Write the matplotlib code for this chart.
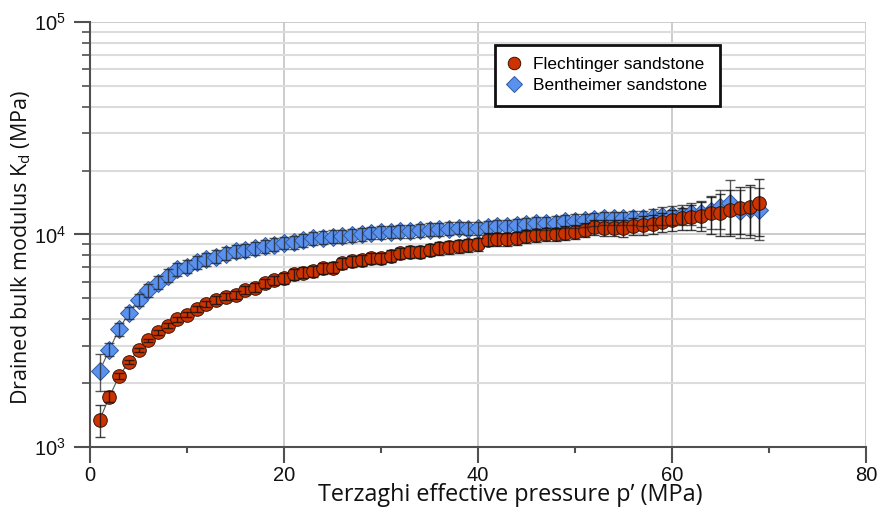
import numpy as np
import matplotlib
matplotlib.use('Agg')
import matplotlib.pyplot as plt
from matplotlib.ticker import LogLocator, FixedLocator, LogFormatterSciNotation

# =============================================================================
# data
# =============================================================================
pressure = list(range(1, 70))

k_flechtinger = [1340, 1725, 2158, 2506, 2851, 3178, 3467, 3724, 4000, 4195,
                 4458, 4695, 4918, 5097, 5190, 5478, 5630, 5890, 6080, 6220,
                 6500, 6610, 6730, 6930, 6980, 7320, 7500, 7580, 7720, 7720,
                 7930, 8160, 8280, 8300, 8450, 8610, 8710, 8830, 8930, 9020,
                 9450, 9480, 9480, 9590, 9840, 9950, 10020, 10020, 10190, 10300,
                 10500, 10810, 10760, 10760, 10690, 10960, 11090, 11200, 11480, 11690,
                 11910, 12130, 12250, 12580, 12670, 13030, 13360, 13510, 14030]

err_flechtinger = [230, 100, 60, 50, 60, 60, 90, 100, 110, 120,
                   140, 150, 190, 200, 210, 220, 280, 290, 300, 370,
                   390, 400, 400, 420, 420, 440, 450, 450, 460, 460,
                   480, 520, 540, 550, 560, 580, 600, 610, 620, 640,
                   660, 680, 680, 680, 700, 700, 720, 720, 740, 760,
                   800, 860, 900, 900, 950, 1000, 1100, 1150, 1200, 1300,
                   1400, 1600, 1900, 2500, 2800, 3200, 3300, 3600, 4200]

k_bentheimer = [2286, 2871, 3592, 4272, 4935, 5478, 5933, 6401, 6858, 7056,
                7398, 7673, 7865, 8128, 8363, 8453, 8650, 8840, 8970, 9140,
                9240, 9410, 9590, 9660, 9770, 9840, 9950, 10050, 10190, 10270,
                10300, 10380, 10380, 10460, 10540, 10620, 10650, 10760, 10650, 10690,
                10850, 10960, 10960, 11090, 11200, 11300, 11300, 11370, 11580, 11600,
                11690, 11790, 11910, 11910, 11910, 12000, 11910, 12130, 12250, 12300,
                12400, 12600, 12600, 12900, 13400, 14000, 12900, 13200, 13000]

err_bentheimer = [450, 200, 250, 280, 330, 380, 420, 450, 480, 500,
                  520, 540, 560, 570, 590, 600, 610, 620, 630, 640,
                  650, 660, 670, 680, 690, 690, 700, 700, 710, 720,
                  720, 730, 730, 730, 740, 740, 750, 750, 750, 760,
                  760, 770, 770, 780, 780, 790, 790, 800, 810, 820,
                  830, 840, 850, 860, 870, 960, 1000, 1100, 1150, 1250,
                  1300, 1500, 1700, 2300, 2800, 4000, 3300, 3600, 3600]

x_ticks = [0, 20, 40, 60, 80]
labels = ['Flechtinger sandstone', 'Bentheimer sandstone']

# =============================================================================
# plot settings
# =============================================================================
plt.rcParams['font.family'] = ['Liberation Sans', 'DejaVu Sans']
plt.rcParams['mathtext.default'] = 'regular'

red_face, red_edge = '#cc3300', '#3a1405'
blue_face, blue_edge = '#5b91ee', '#2f5a9e'
spine_col = '#505050'
label_font = ['Open Sans', 'DejaVu Sans']

fig = plt.figure(figsize=(8.79, 5.16), dpi=100)
ax = fig.add_axes([0.1024, 0.1337, 0.8828, 0.8237])

# connecting lines
ax.plot(pressure, k_bentheimer, color='#555555', lw=0.8, zorder=2)
ax.plot(pressure, k_flechtinger, color='#555555', lw=0.8, zorder=2)

# markers
ax.plot(pressure, k_bentheimer, ls='none', marker='D', ms=9.3, mfc=blue_face,
        mec=blue_edge, mew=0.7, zorder=3)
ax.plot(pressure, k_flechtinger, ls='none', marker='o', ms=9.8, mfc=red_face,
        mec=red_edge, mew=0.7, zorder=3.5)

# error bars on top
ax.errorbar(pressure, k_bentheimer, yerr=err_bentheimer, fmt='none', ecolor='#222222',
            elinewidth=1.0, capsize=3.4, capthick=1.0, alpha=0.75, zorder=4)
ax.errorbar(pressure, k_flechtinger, yerr=err_flechtinger, fmt='none', ecolor='#111111',
            elinewidth=1.0, capsize=3.4, capthick=1.0, alpha=0.8, zorder=4.5)

ax.set_yscale('log')
ax.set_xlim(0, 80)
ax.set_ylim(1e3, 1e5)

ax.xaxis.set_major_locator(FixedLocator(x_ticks))
ax.xaxis.set_minor_locator(FixedLocator([10, 30, 50, 70]))
ax.yaxis.set_major_locator(LogLocator(base=10, numticks=5))
ax.yaxis.set_minor_locator(LogLocator(base=10, subs=np.arange(2, 10), numticks=20))
ax.yaxis.set_major_formatter(LogFormatterSciNotation())
ax.yaxis.set_minor_formatter(plt.NullFormatter())

# grid
ax.grid(True, which='major', axis='x', color='#c4c4c4', lw=1.2, zorder=0)
ax.grid(True, which='major', axis='y', color='#c4c4c4', lw=1.2, zorder=0)
ax.grid(True, which='minor', axis='y', color='#dcdcdc', lw=1.5, zorder=0)
ax.set_axisbelow(True)

for side in ['top', 'right']:
    ax.spines[side].set_visible(False)
for side in ['left', 'bottom']:
    ax.spines[side].set_color(spine_col)
    ax.spines[side].set_linewidth(1.5)

ax.tick_params(axis='both', which='major', direction='out', length=11.5, width=1.5,
               color=spine_col, labelsize=14.5, labelcolor='#111111')
ax.tick_params(axis='x', which='major', pad=2)
ax.tick_params(axis='y', which='major', pad=6)
ax.tick_params(axis='x', which='minor', direction='out', length=4.5, width=1.5, color=spine_col)
ax.tick_params(axis='y', which='minor', direction='out', length=5.5, width=1.2, color=spine_col)

ax.set_xlabel('Terzaghi effective pressure p’ (MPa)', family=label_font,
              fontsize=16.8, color='#111111')
ax.set_ylabel('Drained bulk modulus K$_d$ (MPa)', family=label_font,
              fontsize=15.5, color='#111111')
ax.xaxis.set_label_coords(0.541, -0.085)
ax.yaxis.set_label_coords(-0.074, 0.47)

# legend
h1 = plt.Line2D([], [], ls='none', marker='o', ms=9, mfc=red_face, mec=red_edge, mew=0.7)
h2 = plt.Line2D([], [], ls='none', marker='D', ms=8, mfc=blue_face, mec=blue_edge, mew=0.7)
leg = ax.legend([h1, h2], labels, loc='upper left', bbox_to_anchor=(0.522, 0.946),
                borderaxespad=0, fancybox=False, framealpha=1, edgecolor='#111111',
                fontsize=12.5, handlelength=0.8, handletextpad=0.7, borderpad=0.7,
                labelspacing=0.35)
leg.get_frame().set_linewidth(2)
leg.set_zorder(10)

fig.savefig('out.png', dpi=100)
